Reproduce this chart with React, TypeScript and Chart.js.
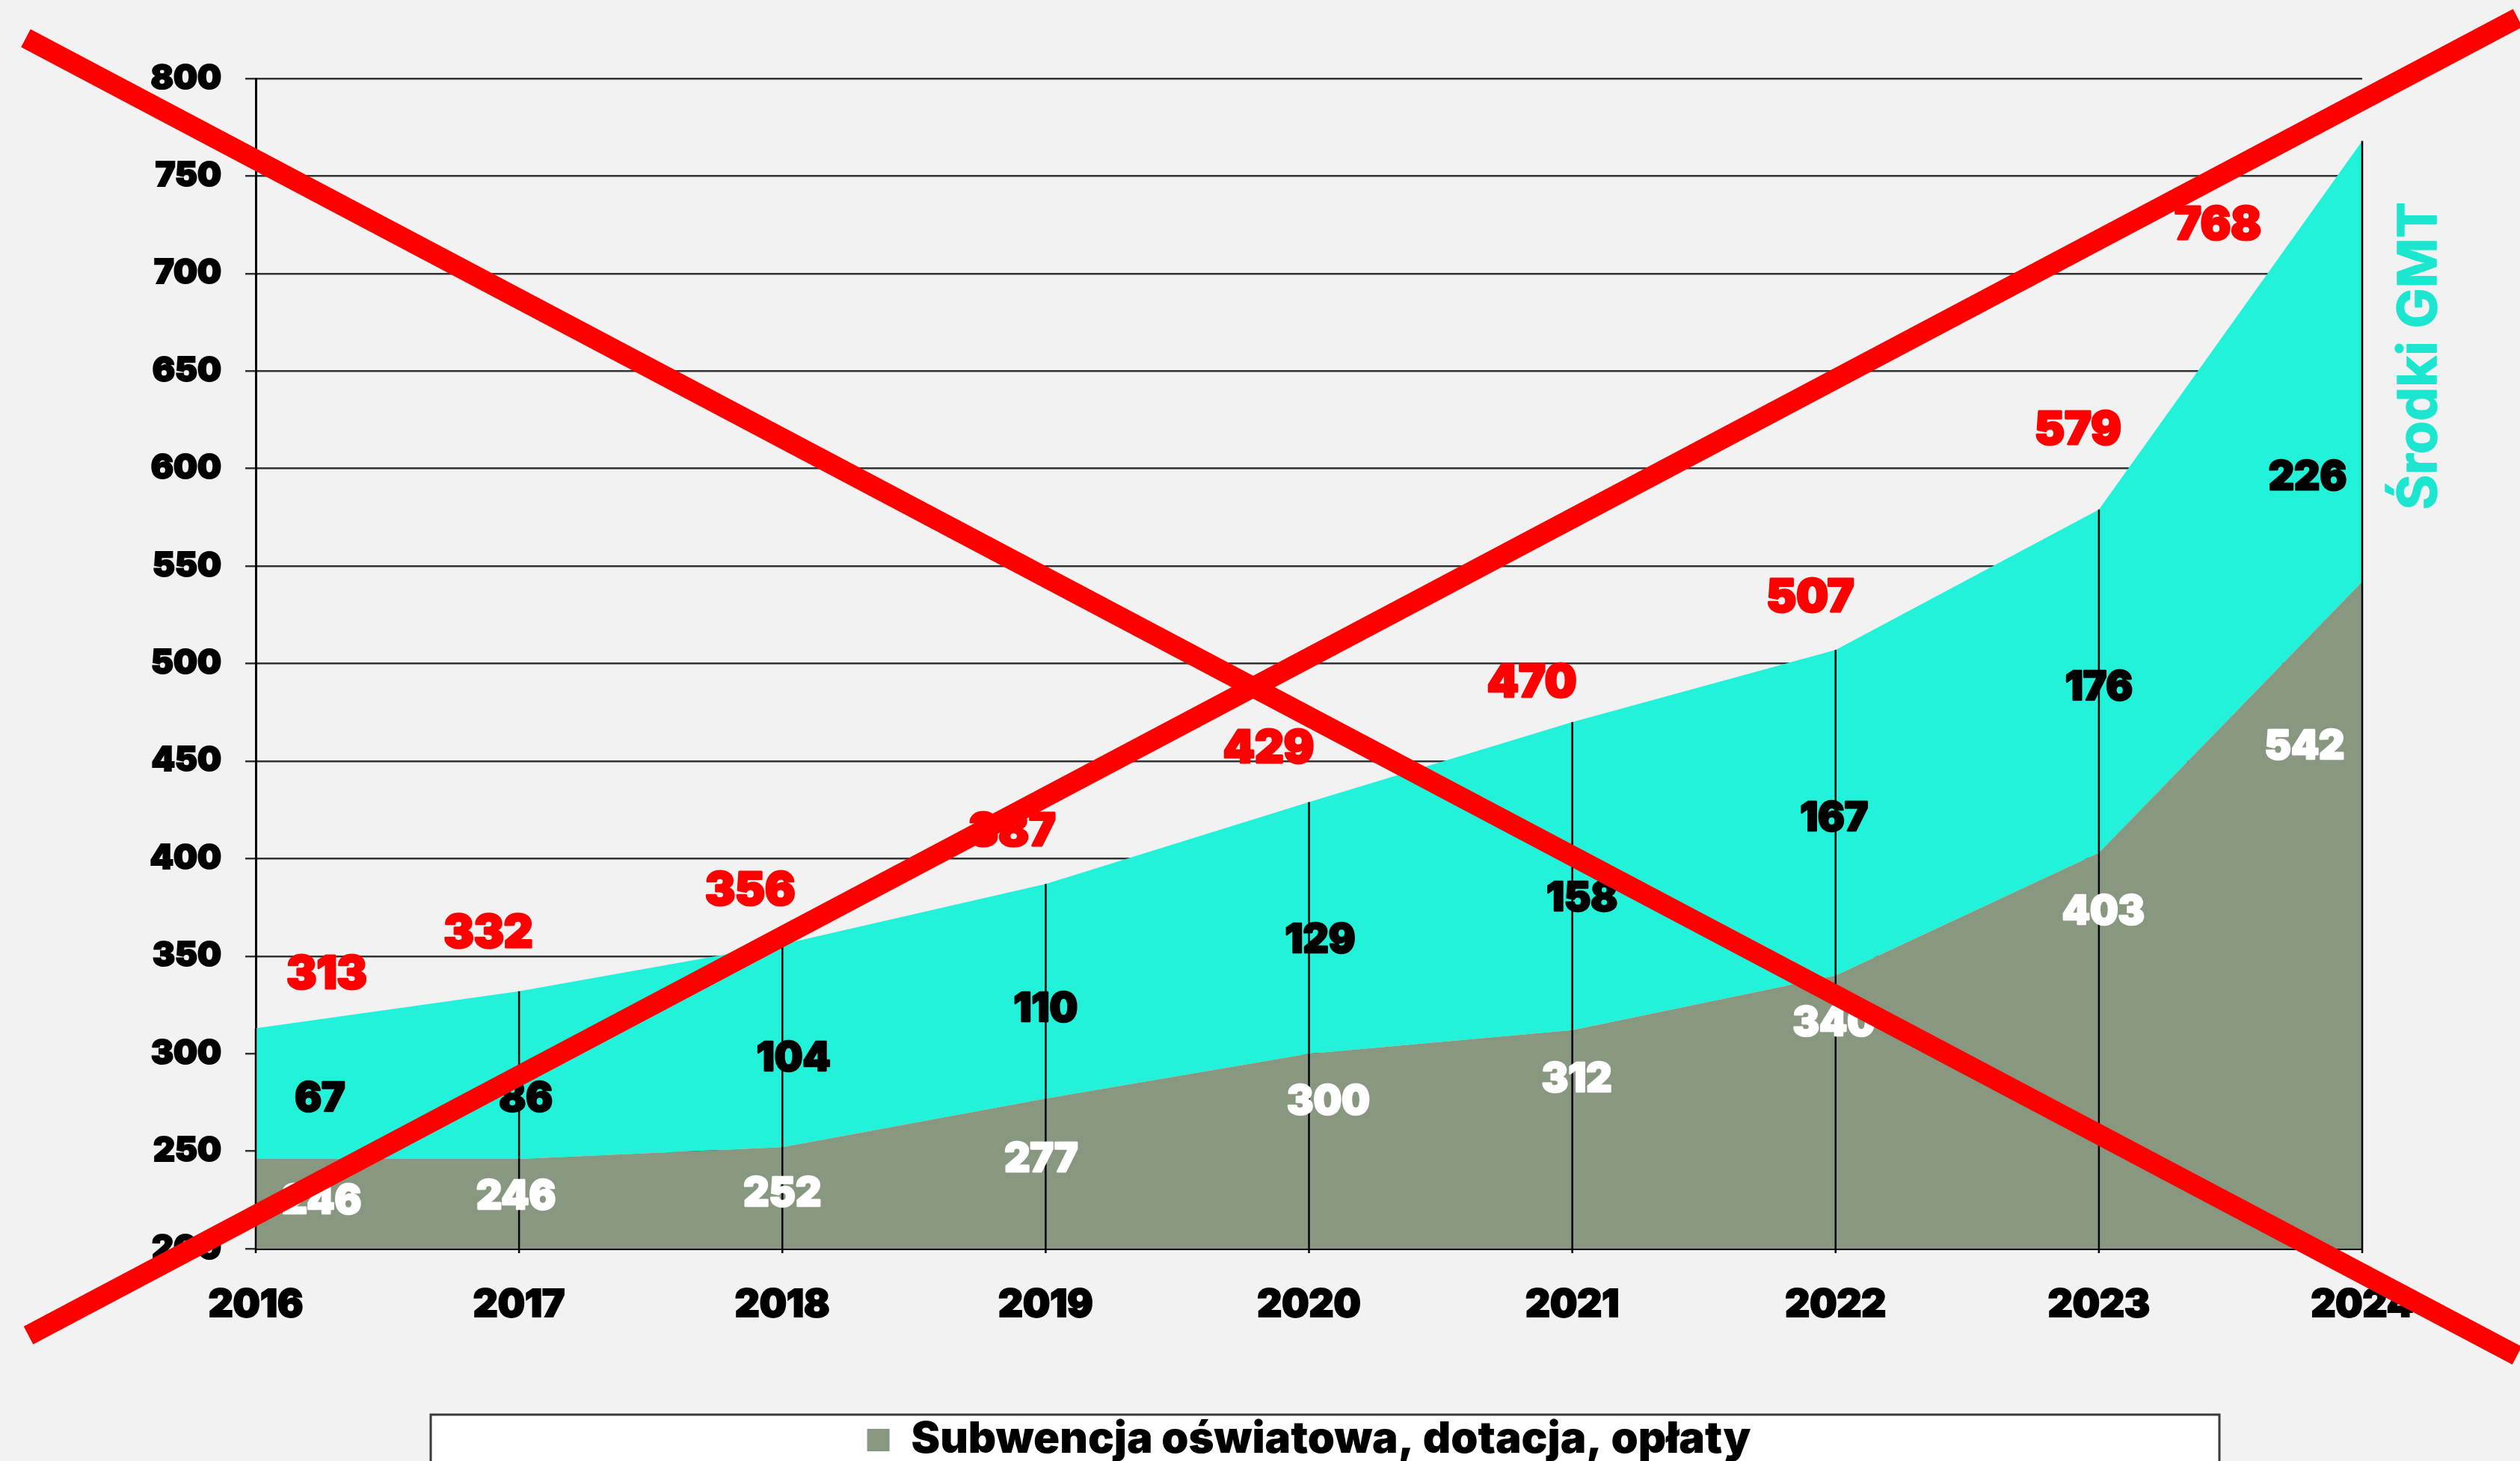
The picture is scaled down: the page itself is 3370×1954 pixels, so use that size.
import React, { useEffect, useRef } from 'react';
import { Chart, registerables } from 'chart.js';

Chart.register(...registerables);

// ---- data ----
const YEARS = ['2016', '2017', '2018', '2019', '2020', '2021', '2022', '2023', '2024'];
const SUBWENCJA = [246, 246, 252, 277, 300, 312, 340, 403, 542];
const SRODKI_GMT = [67, 86, 104, 110, 129, 158, 167, 176, 226];
const SERIES_NAMES = ['Subwencja oświatowa, dotacja, opłaty', 'Środki GMT'];
const Y_MIN = 200;
const Y_MAX = 800;
const Y_STEP = 50;

// ---- label nudges in pixels (dx, dy) relative to the data point ----
const NUDGE_WHITE = [[88, 57], [-4, 51], [0, 63], [-6, 82], [26, 65], [6, 66], [-2, 64], [6, 80], [-77, 221]];
const NUDGE_BLACK = [[86, 95], [9, 144], [15, 153], [0, 168], [15, 185], [13, 236], [-2, 226], [0, 239], [-73, 451]];
const NUDGE_RED = [[95, -71], [-41, -77], [-43, -71], [-45, -69], [-54, -71], [-54, -52], [-34, -69], [-28, -105], [-193, 114]];

const W = 3370;
const H_VISIBLE = 1954;
const H = 2000;

const COL_GRAY = '#889880';
const COL_CYAN = '#22F2DA';
const COL_CYAN_TEXT = '#1CE6D0';
const COL_RED = '#FF0000';
const BG = '#F2F2F2';
const FONT = 'Inter, "Open Sans", sans-serif';

function heavyText(ctx: any, text: string, x: number, y: number, color: string, stroke: number) {
  ctx.fillStyle = color;
  ctx.strokeStyle = color;
  ctx.lineWidth = stroke;
  ctx.lineJoin = 'round';
  ctx.strokeText(text, x, y);
  ctx.fillText(text, x, y);
}

const decorPlugin = {
  id: 'decor',
  beforeDraw(chart: any) {
    const ctx = chart.ctx;
    ctx.save();
    ctx.fillStyle = BG;
    ctx.fillRect(0, 0, chart.width, chart.height);
    // legend frame
    const lx = 576, ly = 1892, lw = 2968 - 576, lh = 300;
    ctx.fillStyle = '#FFFFFF';
    ctx.fillRect(lx, ly, lw, lh);
    ctx.strokeStyle = '#3A3A3A';
    ctx.lineWidth = 3;
    ctx.strokeRect(lx, ly, lw, lh);
    ctx.restore();
  },
  afterDatasetsDraw(chart: any) {
    const ctx = chart.ctx;
    const m0 = chart.getDatasetMeta(0);
    const m1 = chart.getDatasetMeta(1);
    const bottom = chart.chartArea.bottom;
    ctx.save();
    // drop lines
    ctx.strokeStyle = '#000000';
    ctx.lineWidth = 2.5;
    m1.data.forEach((pt: any) => {
      ctx.beginPath();
      ctx.moveTo(pt.x, pt.y);
      ctx.lineTo(pt.x, bottom + 6);
      ctx.stroke();
    });
    ctx.textAlign = 'center';
    ctx.textBaseline = 'middle';
    // white labels (bottom series)
    ctx.font = `900 53px ${FONT}`;
    m0.data.forEach((pt: any, i: number) => {
      const [dx, dy] = NUDGE_WHITE[i];
      heavyText(ctx, String(SUBWENCJA[i]), pt.x + dx, pt.y + dy, '#FFFFFF', 2.5);
    });
    // black labels (GMT series)
    ctx.font = `900 53px ${FONT}`;
    m1.data.forEach((pt: any, i: number) => {
      const [dx, dy] = NUDGE_BLACK[i];
      heavyText(ctx, String(SRODKI_GMT[i]), pt.x + dx, pt.y + dy, '#000000', 2.5);
    });
    // red totals
    ctx.font = `900 60px ${FONT}`;
    m1.data.forEach((pt: any, i: number) => {
      const [dx, dy] = NUDGE_RED[i];
      heavyText(ctx, String(SUBWENCJA[i] + SRODKI_GMT[i]), pt.x + dx, pt.y + dy, COL_RED, 3);
    });
    // series name on the right
    ctx.save();
    ctx.translate(chart.chartArea.right + 77, 476);
    ctx.rotate(-Math.PI / 2);
    ctx.font = `700 72px ${FONT}`;
    heavyText(ctx, SERIES_NAMES[1], 0, 0, COL_CYAN_TEXT, 1.5);
    ctx.restore();
    ctx.restore();
  },
  afterDraw(chart: any) {
    const ctx = chart.ctx;
    ctx.save();
    ctx.strokeStyle = COL_RED;
    ctx.lineWidth = 27;
    ctx.lineCap = 'butt';
    ctx.beginPath();
    ctx.moveTo(34.5, 51);
    ctx.lineTo(3366, 1813);
    ctx.stroke();
    ctx.beginPath();
    ctx.moveTo(38, 1786);
    ctx.lineTo(3367, 24);
    ctx.stroke();
    ctx.restore();
  },
};

export default function App() {
  const ref = useRef<HTMLCanvasElement | null>(null);
  useEffect(() => {
    if (!ref.current) return;
    const chart = new Chart(ref.current, {
      type: 'line',
      data: {
        labels: YEARS,
        datasets: [
          {
            label: SERIES_NAMES[0],
            data: SUBWENCJA,
            backgroundColor: COL_GRAY,
            borderColor: 'rgba(0,0,0,0)',
            borderWidth: 0,
            fill: 'origin',
            pointRadius: 0,
            tension: 0,
          },
          {
            label: SERIES_NAMES[1],
            data: SRODKI_GMT,
            backgroundColor: COL_CYAN,
            borderColor: 'rgba(0,0,0,0)',
            borderWidth: 0,
            fill: '-1',
            pointRadius: 0,
            tension: 0,
          },
        ],
      },
      options: {
        responsive: false,
        devicePixelRatio: 1,
        animation: false,
        layout: { padding: { top: 105, right: 211, left: 0, bottom: 35 } },
        plugins: {
          tooltip: { enabled: false },
          legend: {
            display: true,
            position: 'bottom',
            fullSize: false,
            labels: {
              filter: (item: any) => item.datasetIndex === 0,
              boxWidth: 30,
              boxHeight: 30,
              padding: 20,
              color: '#000000',
              font: { family: FONT, weight: '900', size: 58 },
            },
          },
        },
        scales: {
          x: {
            type: 'category',
            offset: false,
            grid: { display: false },
            border: { display: true, color: '#000000', width: 3 },
            ticks: {
              autoSkip: false,
              maxRotation: 0,
              padding: 37,
              color: '#000000',
              textStrokeColor: '#000000',
              textStrokeWidth: 2,
              font: { family: FONT, weight: '900', size: 51 },
            },
            afterFit: (scale: any) => {
              scale.height = H - 35 - 88 - 1670;
            },
          },
          y: {
            stacked: true,
            min: Y_MIN,
            max: Y_MAX,
            ticks: {
              stepSize: Y_STEP,
              padding: 32,
              color: '#000000',
              textStrokeColor: '#000000',
              textStrokeWidth: 2,
              font: { family: FONT, weight: '900', size: 45 },
            },
            grid: { color: '#333333', lineWidth: 2.5, tickLength: 14, drawTicks: true },
            border: { display: true, color: '#000000', width: 3 },
            afterFit: (scale: any) => {
              scale.width = 342;
            },
          },
        },
      },
      plugins: [decorPlugin],
    } as any);
    return () => chart.destroy();
  }, []);

  return (
    <div
      style={{
        position: 'fixed',
        left: 0,
        top: 0,
        width: W,
        height: H_VISIBLE,
        overflow: 'hidden',
        background: BG,
      }}
    >
      <canvas ref={ref} width={W} height={H} style={{ display: 'block', width: W, height: H }} />
    </div>
  );
}
